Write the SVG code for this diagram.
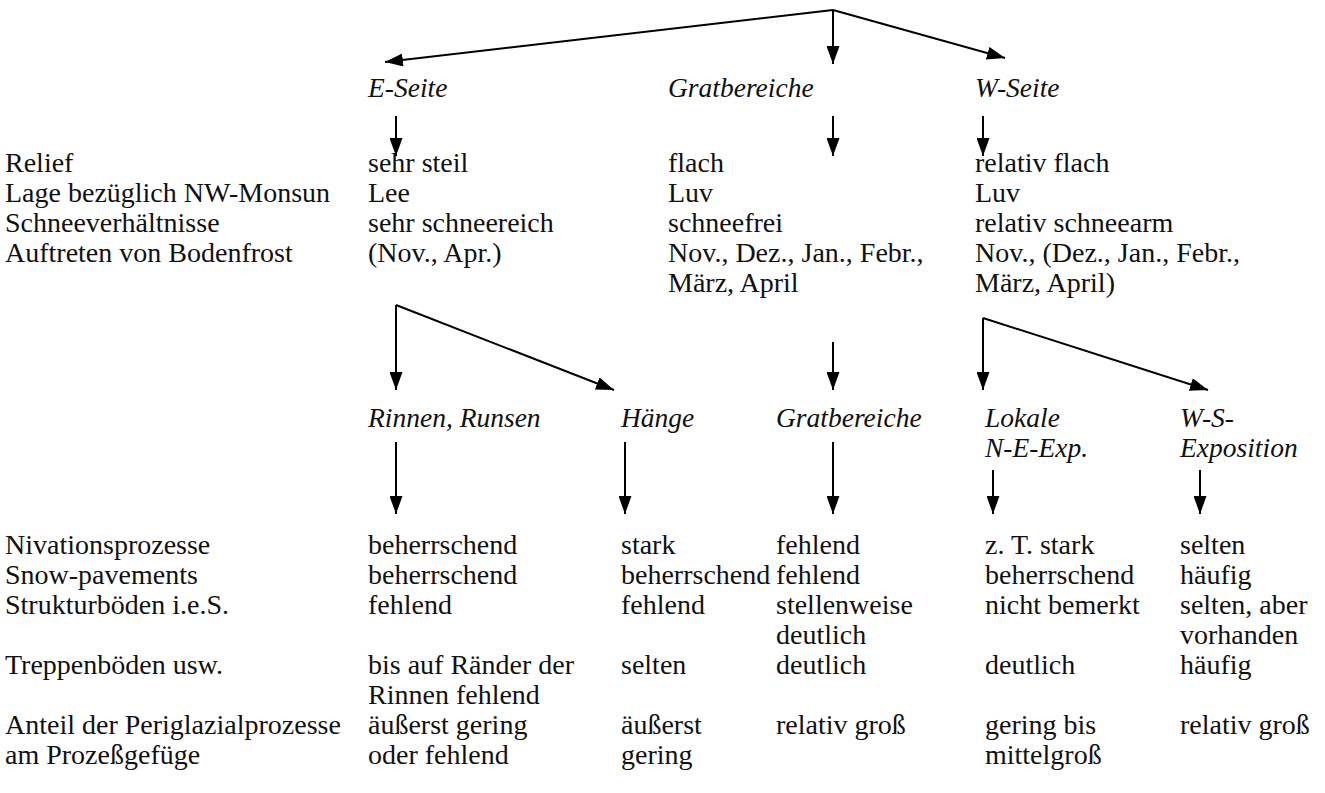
<svg xmlns="http://www.w3.org/2000/svg" width="1325" height="793" viewBox="0 0 1325 793">
<defs>
<marker id="ah" markerWidth="18" markerHeight="13" refX="18" refY="6.5" orient="auto" markerUnits="userSpaceOnUse">
<path d="M0,0 L18,6.5 L0,13 Z" fill="#000"/>
</marker>
<style>
text{font-family:"Liberation Serif","Times New Roman",serif;font-size:28px;fill:#111}
.i{font-style:italic;font-size:27.5px}
.c line{stroke:#000;stroke-width:2;fill:none}
</style>
</defs>
<rect width="1325" height="793" fill="#fff"/>
<g class="c" id="connectors">
<line x1="833" y1="10" x2="385" y2="62" marker-end="url(#ah)"/>
<line x1="833" y1="10" x2="833" y2="64" marker-end="url(#ah)"/>
<line x1="833" y1="10" x2="1005" y2="58" marker-end="url(#ah)"/>
<line x1="396" y1="116" x2="396" y2="156" marker-end="url(#ah)"/>
<line x1="833" y1="116" x2="833" y2="156" marker-end="url(#ah)"/>
<line x1="983" y1="116" x2="983" y2="156" marker-end="url(#ah)"/>
<line x1="396" y1="305" x2="396" y2="390" marker-end="url(#ah)"/>
<line x1="396" y1="305" x2="614" y2="390" marker-end="url(#ah)"/>
<line x1="833" y1="342" x2="833" y2="390" marker-end="url(#ah)"/>
<line x1="983" y1="318" x2="983" y2="390" marker-end="url(#ah)"/>
<line x1="983" y1="318" x2="1208" y2="390" marker-end="url(#ah)"/>
<line x1="396" y1="442" x2="396" y2="514" marker-end="url(#ah)"/>
<line x1="625" y1="442" x2="625" y2="514" marker-end="url(#ah)"/>
<line x1="833" y1="442" x2="833" y2="514" marker-end="url(#ah)"/>
<line x1="993" y1="470" x2="993" y2="514" marker-end="url(#ah)"/>
<line x1="1200" y1="470" x2="1200" y2="514" marker-end="url(#ah)"/>
</g>
<g id="headers">
<text id="e-seite" class="i" x="368" y="97">E-Seite</text>
<text id="gratbereiche1" class="i" x="668" y="97">Gratbereiche</text>
<text id="w-seite" class="i" x="975" y="97">W-Seite</text>
</g>
<g id="labels-top">
<text x="5" y="172">Relief</text>
<text x="5" y="202">Lage bezüglich NW-Monsun</text>
<text x="5" y="232">Schneeverhältnisse</text>
<text x="5" y="262">Auftreten von Bodenfrost</text>
</g>
<g id="col-e">
<text x="368" y="172">sehr steil</text>
<text x="368" y="202">Lee</text>
<text x="368" y="232">sehr schneereich</text>
<text x="368" y="262">(Nov., Apr.)</text>
</g>
<g id="col-grat">
<text x="668" y="172">flach</text>
<text x="668" y="202">Luv</text>
<text x="668" y="232">schneefrei</text>
<text x="668" y="262">Nov., Dez., Jan., Febr.,</text>
<text x="668" y="292">März, April</text>
</g>
<g id="col-w">
<text x="975" y="172">relativ flach</text>
<text x="975" y="202">Luv</text>
<text x="975" y="232">relativ schneearm</text>
<text x="975" y="262">Nov., (Dez., Jan., Febr.,</text>
<text x="975" y="292">März, April)</text>
</g>
<g id="subheaders">
<text id="rinnen" class="i" x="368" y="427">Rinnen, Runsen</text>
<text id="haenge" class="i" x="621" y="427">Hänge</text>
<text id="gratbereiche2" class="i" x="776" y="427">Gratbereiche</text>
<text id="lokale" class="i" x="985" y="427">Lokale</text>
<text class="i" x="985" y="457">N-E-Exp.</text>
<text id="ws" class="i" x="1180" y="427">W-S-</text>
<text class="i" x="1180" y="457">Exposition</text>
</g>
<g id="labels-bottom">
<text x="5" y="554">Nivationsprozesse</text>
<text x="5" y="584">Snow-pavements</text>
<text x="5" y="614">Strukturböden i.e.S.</text>
<text x="5" y="674">Treppenböden usw.</text>
<text x="5" y="734">Anteil der Periglazialprozesse</text>
<text x="5" y="764">am Prozeßgefüge</text>
</g>
<g id="col-rinnen">
<text x="368" y="554">beherrschend</text>
<text x="368" y="584">beherrschend</text>
<text x="368" y="614">fehlend</text>
<text x="368" y="674">bis auf Ränder der</text>
<text x="368" y="704">Rinnen fehlend</text>
<text x="368" y="734">äußerst gering</text>
<text x="368" y="764">oder fehlend</text>
</g>
<g id="col-haenge">
<text x="621" y="554">stark</text>
<text x="621" y="584">beherrschend</text>
<text x="621" y="614">fehlend</text>
<text x="621" y="674">selten</text>
<text x="621" y="734">äußerst</text>
<text x="621" y="764">gering</text>
</g>
<g id="col-grat2">
<text x="776" y="554">fehlend</text>
<text x="776" y="584">fehlend</text>
<text x="776" y="614">stellenweise</text>
<text x="776" y="644">deutlich</text>
<text x="776" y="674">deutlich</text>
<text x="776" y="734">relativ groß</text>
</g>
<g id="col-lokale">
<text x="985" y="554">z. T. stark</text>
<text x="985" y="584">beherrschend</text>
<text x="985" y="614">nicht bemerkt</text>
<text x="985" y="674">deutlich</text>
<text x="985" y="734">gering bis</text>
<text x="985" y="764">mittelgroß</text>
</g>
<g id="col-ws">
<text x="1180" y="554">selten</text>
<text x="1180" y="584">häufig</text>
<text x="1180" y="614">selten, aber</text>
<text x="1180" y="644">vorhanden</text>
<text x="1180" y="674">häufig</text>
<text x="1180" y="734">relativ groß</text>
</g>
</svg>
